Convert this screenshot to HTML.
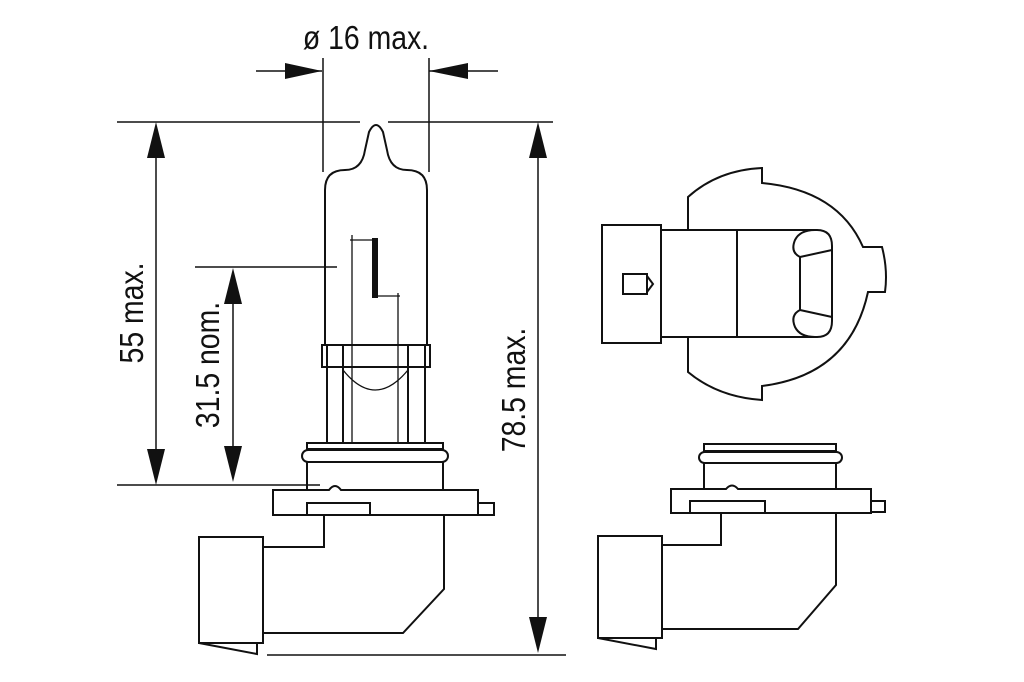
<!DOCTYPE html>
<html><head><style>
html,body{margin:0;padding:0;background:#fff}
svg{display:block}
text{font-family:"Liberation Sans",sans-serif;fill:#111}
</style></head><body>
<svg width="1024" height="682" viewBox="0 0 1024 682" xmlns="http://www.w3.org/2000/svg">
<g fill="none" stroke="#111" stroke-width="1.5">
<line x1="117" y1="122" x2="360" y2="122"/>
<line x1="388" y1="122" x2="553" y2="122"/>
<line x1="323" y1="58" x2="323" y2="172"/>
<line x1="429" y1="58" x2="429" y2="172"/>
<line x1="256" y1="71" x2="322" y2="71"/>
<line x1="429" y1="71" x2="498" y2="71"/>
<line x1="156" y1="140" x2="156" y2="470"/>
<line x1="538" y1="140" x2="538" y2="640"/>
<line x1="233" y1="285" x2="233" y2="465"/>
<line x1="195" y1="267" x2="337" y2="267"/>
<line x1="117" y1="485" x2="320" y2="485"/>
<line x1="267" y1="655" x2="566" y2="655"/>
</g>
<g fill="#111">
<polygon points="322,71 285,63 285,79"/>
<polygon points="429,71 468,63 468,79"/>
<polygon points="156,122 147,158 165,158"/>
<polygon points="156,485 147,449 165,449"/>
<polygon points="538,122 529,158 547,158"/>
<polygon points="538,653 529,617 547,617"/>
<polygon points="233,268 224,304 242,304"/>
<polygon points="233,482 224,446 242,446"/>
</g>
<text font-size="33" text-anchor="middle" transform="translate(366 49) scale(0.86 1)">ø 16 max.</text>
<text font-size="33" text-anchor="middle" transform="translate(143 313) rotate(-90) scale(0.86 1)">55 max.</text>
<text font-size="33" text-anchor="middle" transform="translate(219 365) rotate(-90) scale(0.86 1)">31.5 nom.</text>
<text font-size="33" text-anchor="middle" transform="translate(525 390) rotate(-90) scale(0.86 1)">78.5 max.</text>

<g fill="none" stroke="#111" stroke-width="2">
<path d="M325,345 L325,190 Q325,170 345,170 Q362,170 365,150 L369,132 Q376,118 383,132 L387,150 Q390,170 407,170 Q427,170 427,190 L427,345"/>
<rect x="322" y="345" width="108" height="22"/>
<line x1="327" y1="345" x2="327" y2="442"/>
<line x1="343" y1="345" x2="343" y2="442"/>
<line x1="408" y1="345" x2="408" y2="442"/>
<line x1="425" y1="345" x2="425" y2="442"/>
<line x1="343" y1="367" x2="408" y2="367"/>
<path d="M343,370 Q375,410 408,370" stroke-width="1.3"/>
<line x1="352" y1="235" x2="352" y2="442" stroke-width="1.3"/>
<line x1="398" y1="293" x2="398" y2="442" stroke-width="1.3"/>
<line x1="350" y1="240" x2="375" y2="240" stroke-width="1.2"/>
<line x1="375" y1="296" x2="400" y2="296" stroke-width="1.2"/>
<line x1="375" y1="238" x2="375" y2="298" stroke-width="6"/>
<rect x="307" y="443" width="136" height="6"/>
<rect x="302" y="450" width="146" height="12" rx="6"/>
<path d="M307,462 L307,490 M443,462 L443,490"/>
<path d="M273,490 L329,490 Q335,482 341,490 L478,490 L478,515 L273,515 Z"/>
<rect x="478" y="503" width="16" height="12"/>
<rect x="307" y="503" width="63" height="12"/>
<path d="M324,515 L324,547 L263,547 M444,515 L444,589 L403,633 L263,633"/>
<rect x="199" y="537" width="64" height="106"/>
<path d="M199,643 L257,654 L257,643"/>
<rect x="704" y="444" width="132" height="7"/>
<rect x="699" y="452" width="143" height="11" rx="5.5"/>
<path d="M704,463 L704,489 M836,463 L836,489"/>
<path d="M671,489 L726,489 Q732,482 738,489 L871,489 L871,513 L671,513 Z"/>
<rect x="871" y="501" width="14" height="11"/>
<rect x="690" y="501" width="75" height="12"/>
<path d="M721,513 L721,545 L662,545 M836,513 L836,585 L798,629 L662,629"/>
<rect x="598" y="536" width="64" height="102"/>
<path d="M598,638 L656,649 L656,638"/>
<rect x="602" y="225" width="59" height="118"/>
<rect x="623" y="274" width="24" height="20"/>
<path d="M647,276 L653,284 L647,292"/>
<rect x="661" y="230" width="76" height="107"/>
<path d="M737,230 L817,230 Q832,230 832,246 L832,321 Q832,337 817,337 L737,337"/>
<path d="M800,257 L800,310"/>
<path d="M800,257 L832,250 M800,310 L832,317"/>
<path d="M815,230 Q800,230 795,240 Q790,252 800,257"/>
<path d="M815,337 Q800,337 795,327 Q790,315 800,310"/>
<path d="M688,230 L688,197 Q718,170 762,168 L762,183 Q838,190 863,247 L882,247 Q888,270 885,292 L868,292 Q850,375 762,386 L762,400 Q718,397 688,372 L688,337"/>
</g>
</svg>
</body></html>
